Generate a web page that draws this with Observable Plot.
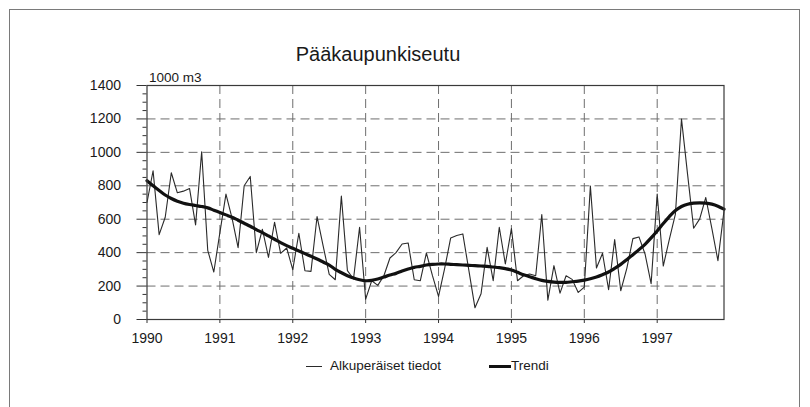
<!DOCTYPE html>
<html>
<head>
<meta charset="utf-8">
<script src="https://cdn.jsdelivr.net/npm/d3@7"></script>
<script src="https://cdn.jsdelivr.net/npm/@observablehq/plot@0.6"></script>
<style>
  html, body { margin: 0; padding: 0; background: #fff; }
  body { width: 810px; height: 407px; overflow: hidden; position: relative;
         font-family: "Liberation Sans", Arial, sans-serif; color: #1a1a1a; }
  #frame { position: absolute; left: 9px; top: 9px; width: 791px; height: 430px;
           border: 1px solid #7a7a7a; box-sizing: border-box; pointer-events: none; }
  #title { position: relative; height: 60px; }
  #title span { position: absolute; left: 0; width: 756px; top: 44px; text-align: center;
                font-size: 20px; line-height: 20px; }
  #chart { position: relative; height: 290px; }
  #legend { position: relative; height: 57px; font-size: 13.5px; }
  #legend .sw { position: absolute; background: #2a2a2a; }
  #legend .lb { position: absolute; top: 8px; line-height: 16px; white-space: nowrap; }
</style>
</head>
<body>
<div id="frame"></div>
<div id="title"><span>Pääkaupunkiseutu</span></div>
<div id="chart"></div>
<div id="legend">
  <div class="sw" style="left:306px; top:15.5px; width:16px; height:1px;"></div>
  <div class="lb" style="left:330px;">Alkuperäiset tiedot</div>
  <div class="sw" style="left:489px; top:14.5px; width:22px; height:3px; background:#111;"></div>
  <div class="lb" style="left:511px;">Trendi</div>
</div>
<script>
// ---- data (monthly, 1000 m3) ----
const startYear = 1990;
const yearTicks = [1990, 1991, 1992, 1993, 1994, 1995, 1996, 1997];
const gridYears = [1991, 1992, 1993, 1994, 1995, 1996, 1997];
const yTicks = [0, 200, 400, 600, 800, 1000, 1200, 1400];
const yGrid = [200, 400, 600, 800, 1000, 1200];
const yMinorTicks = [50, 100, 150, 250, 300, 350, 450, 500, 550, 650, 700, 750, 850, 900, 950, 1050, 1100, 1150, 1250, 1300, 1350];

// Alkuperäiset tiedot (original data), Jan 1990 – Dec 1997
const originalValues = [
  700, 890, 508, 612, 878, 758, 768, 784, 566, 1004, 414, 284,
  520, 750, 606, 430, 800, 856, 400, 540, 372, 582, 396, 428,
  298, 516, 292, 288, 616, 440, 270, 238, 738, 292, 242, 552,
  122, 232, 204, 262, 368, 400, 452, 458, 238, 232, 398, 262,
  138, 304, 488, 502, 512, 292, 70, 154, 432, 232, 552, 332,
  544, 232, 262, 272, 262, 628, 116, 322, 158, 262, 240, 162,
  194, 798, 308, 396, 178, 478, 172, 306, 484, 494, 392, 214,
  750, 320, 480, 630, 1200, 870, 546, 602, 730, 545, 352, 650
];
// Trendi (trend), Jan 1990 – Dec 1997
const trendValues = [
  830, 800, 772, 745, 724, 708, 696, 688, 682, 676, 668, 654,
  640, 626, 612, 594, 576, 558, 538, 520, 500, 480, 460, 442,
  426, 410, 394, 378, 362, 344, 326, 300, 280, 262, 248, 238,
  232, 234, 242, 254, 266, 276, 290, 302, 312, 318, 326, 330,
  332, 332, 330, 328, 326, 324, 322, 320, 318, 314, 310, 304,
  296, 282, 268, 256, 244, 234, 228, 224, 222, 222, 226, 230,
  236, 244, 254, 268, 284, 306, 330, 358, 388, 418, 450, 488,
  530, 574, 616, 652, 676, 690, 696, 698, 696, 690, 678, 660
];

const rows = originalValues.map((v, i) => ({
  t: startYear + i / 12,
  original: v,
  trend: trendValues[i]
}));

const fontFam = '"Liberation Sans", Arial, sans-serif';
const dash = "9,5";
const gridColor = "#6e6e6e";

const chart = Plot.plot({
  width: 810,
  height: 290,
  marginTop: 25,
  marginLeft: 146.5,
  marginRight: 86.5,
  marginBottom: 31,
  style: { fontFamily: fontFam, fontSize: "14px", background: "transparent", color: "#1a1a1a", overflow: "visible" },
  x: { type: "linear", domain: [startYear, startYear + 95 / 12], label: null },
  y: { domain: [0, 1400], label: null },
  marks: [
    Plot.ruleY(yGrid, { stroke: gridColor, strokeWidth: 1, strokeDasharray: dash }),
    Plot.ruleX(gridYears, { stroke: gridColor, strokeWidth: 1, strokeDasharray: dash }),
    Plot.line(rows, { x: "t", y: "original", stroke: "#2a2a2a", strokeWidth: 1.1 }),
    Plot.line(rows, { x: "t", y: "trend", stroke: "#111", strokeWidth: 3.2, curve: "catmull-rom" }),
    Plot.frame({ stroke: "#3a3a3a", strokeWidth: 1.2 }),
    Plot.axisY(yMinorTicks, { tickSize: 4, tickFormat: () => "", label: null, stroke: "#333" }),
    Plot.axisY(yTicks, { tickSize: 10, tickPadding: 16, label: null, fontSize: 14, tickFormat: d => String(d), stroke: "#333" }),
    Plot.axisX(yearTicks, { tickSize: 4, tickPadding: 10, label: null, fontSize: 14, tickFormat: d => String(d), stroke: "#333" }),
    Plot.text(["1000 m3"], { frameAnchor: "top-left", dy: -13, dx: 2, textAnchor: "start", fontSize: 13.5, fill: "#1a1a1a" })
  ]
});
document.getElementById("chart").appendChild(chart);
</script>
</body>
</html>
